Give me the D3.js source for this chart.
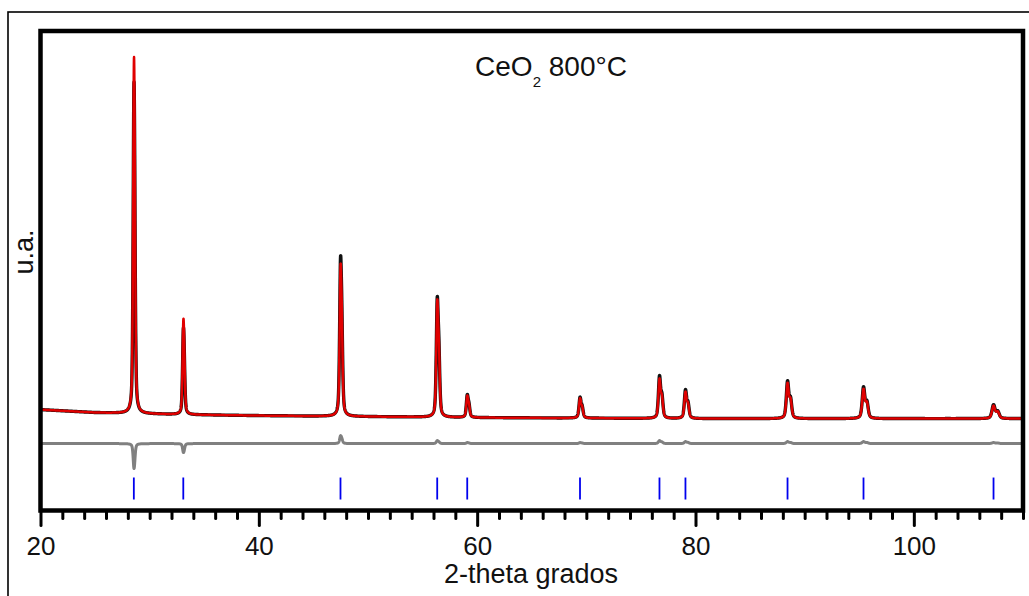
<!DOCTYPE html>
<html><head><meta charset="utf-8">
<script src="https://cdn.jsdelivr.net/npm/d3@7"></script>
<style>
body{margin:0;background:#fff}
text{font-family:"Liberation Sans",Arial,sans-serif;fill:#111}
</style>
</head><body>
<svg id="chart" width="1029" height="596"></svg>
<script>
// ---- data ----
const peakPositions = [28.55, 33.08, 47.48, 56.34, 59.09, 69.42, 76.70, 79.08, 88.43, 95.39, 107.30];
const obsHeights    = [8300, 2175, 4025, 3025, 575, 525, 1075, 725, 950, 800, 350];
const calcHeights   = [8925, 2400, 3825, 2950, 550, 500, 1000, 675, 900, 750, 325];
const peakWidths    = [0.17, 0.17, 0.19, 0.20, 0.20, 0.22, 0.23, 0.24, 0.26, 0.28, 0.33];
const backgroundX   = [20, 25, 33, 40, 50, 60, 80, 110];
const backgroundY   = [525, 450, 400, 375, 350, 325, 300, 300];
const diffZero      = -325;
const markerTop     = -1175;
const markerBottom  = -1725;
const xMajorTicks   = [20, 40, 60, 80, 100];
const xTickLabels   = ["20", "40", "60", "80", "100"];
const xDomain       = [20, 110];
const yDomain       = [-2000, 10000];
const titleMain = "CeO", titleSub = "2", titleRest = " 800°C";
const xTitle = "2-theta grados", yTitle = "u.a.";

// ---- layout ----
const svg = d3.select("#chart");
const L = 40.5, R = 1023, T = 31, B = 510.5;
const x = d3.scaleLinear().domain(xDomain).range([L, R]);
const y = d3.scaleLinear().domain(yDomain).range([B, T]);

// ---- profile model (pseudo-Voigt with Ka2) ----
const bg = d3.scaleLinear().domain(backgroundX).range(backgroundY);
function pv(dx, w){ const r = dx*dx/(w*w); return 0.5/(1+4*r) + 0.5*Math.exp(-4*Math.LN2*r); }
function ka2Shift(p){ return 2*Math.tan(p/2*Math.PI/180)*0.00247*180/Math.PI; }
function shape(t, i){ const p = peakPositions[i], w = peakWidths[i];
  return pv(t-p, w) + 0.5*pv(t-p-ka2Shift(p), w); }
const norms = peakPositions.map((p,i)=>d3.max(d3.range(p-0.3, p+0.6, 0.002), t=>shape(t,i)));
const grid = d3.range(xDomain[0], xDomain[1]+1e-9, 0.01);
function profile(heights){ return grid.map(t=>{ let s = bg(t);
  for(let i=0;i<peakPositions.length;i++){ if(Math.abs(t-peakPositions[i])<8) s += heights[i]*shape(t,i)/norms[i]; }
  return [t, s]; }); }
const obs = profile(obsHeights), calc = profile(calcHeights);
const diff = obs.map((d,i)=>[d[0], d[1]-calc[i][1]+diffZero]);

// ---- frames ----
svg.append("rect").attr("x",8).attr("y",12).attr("width",1040).attr("height",620)
  .attr("fill","none").attr("stroke","#000").attr("stroke-width",1.6);

svg.append("clipPath").attr("id","clip").append("rect")
  .attr("x",L).attr("y",T).attr("width",R-L).attr("height",B-T);
const g = svg.append("g").attr("clip-path","url(#clip)");
const line = d3.line().x(d=>x(d[0])).y(d=>y(d[1]));

g.append("path").datum(diff).attr("d",line).attr("fill","none")
  .attr("stroke","#808080").attr("stroke-width",3).attr("stroke-linejoin","round");
g.append("path").datum(obs).attr("d",line).attr("fill","none")
  .attr("stroke","#111").attr("stroke-width",3.4).attr("stroke-linejoin","round");
g.append("path").datum(calc).attr("d",line).attr("fill","none")
  .attr("stroke","#e00000").attr("stroke-width",2.5).attr("stroke-linejoin","round");

g.selectAll("line.marker").data(peakPositions).enter().append("line").attr("class","marker")
  .attr("x1",d=>x(d)).attr("x2",d=>x(d)).attr("y1",y(markerTop)).attr("y2",y(markerBottom))
  .attr("stroke","#0000ee").attr("stroke-width",1.8);

// ---- axes ----
const minorVals = d3.range(20, 111, 2).filter(v=>!xMajorTicks.includes(v));
const minorAxis = svg.append("g").attr("transform",`translate(0,${B})`)
  .call(d3.axisBottom(x).tickValues(minorVals).tickSize(8).tickFormat(""));
const majorAxis = svg.append("g").attr("transform",`translate(0,${B})`)
  .call(d3.axisBottom(x).tickValues(xMajorTicks).tickSize(15).tickPadding(11)
    .tickFormat((d,i)=>xTickLabels[i]));
[minorAxis, majorAxis].forEach(a=>{
  a.select(".domain").remove();
  a.selectAll(".tick line").attr("stroke","#000").attr("stroke-width",3).attr("stroke-linecap","round");
});
majorAxis.selectAll(".tick text").attr("font-size",26).attr("fill","#111")
  .attr("font-family","'Liberation Sans',Arial,sans-serif");

svg.append("rect").attr("x",L).attr("y",T).attr("width",R-L).attr("height",B-T)
  .attr("fill","none").attr("stroke","#000").attr("stroke-width",4.5);

// ---- texts ----
const tt = svg.append("text").attr("x",551).attr("y",76).attr("text-anchor","middle").attr("font-size",28);
tt.append("tspan").text(titleMain);
tt.append("tspan").attr("font-size",15).attr("dy",11).text(titleSub);
tt.append("tspan").attr("dy",-11).text(titleRest);

svg.append("text").attr("x",531).attr("y",583).attr("text-anchor","middle").attr("font-size",27).text(xTitle);
svg.append("text").attr("transform","translate(33,252) rotate(-90)").attr("text-anchor","middle")
  .attr("font-size",27).text(yTitle);
</script>
</body></html>
